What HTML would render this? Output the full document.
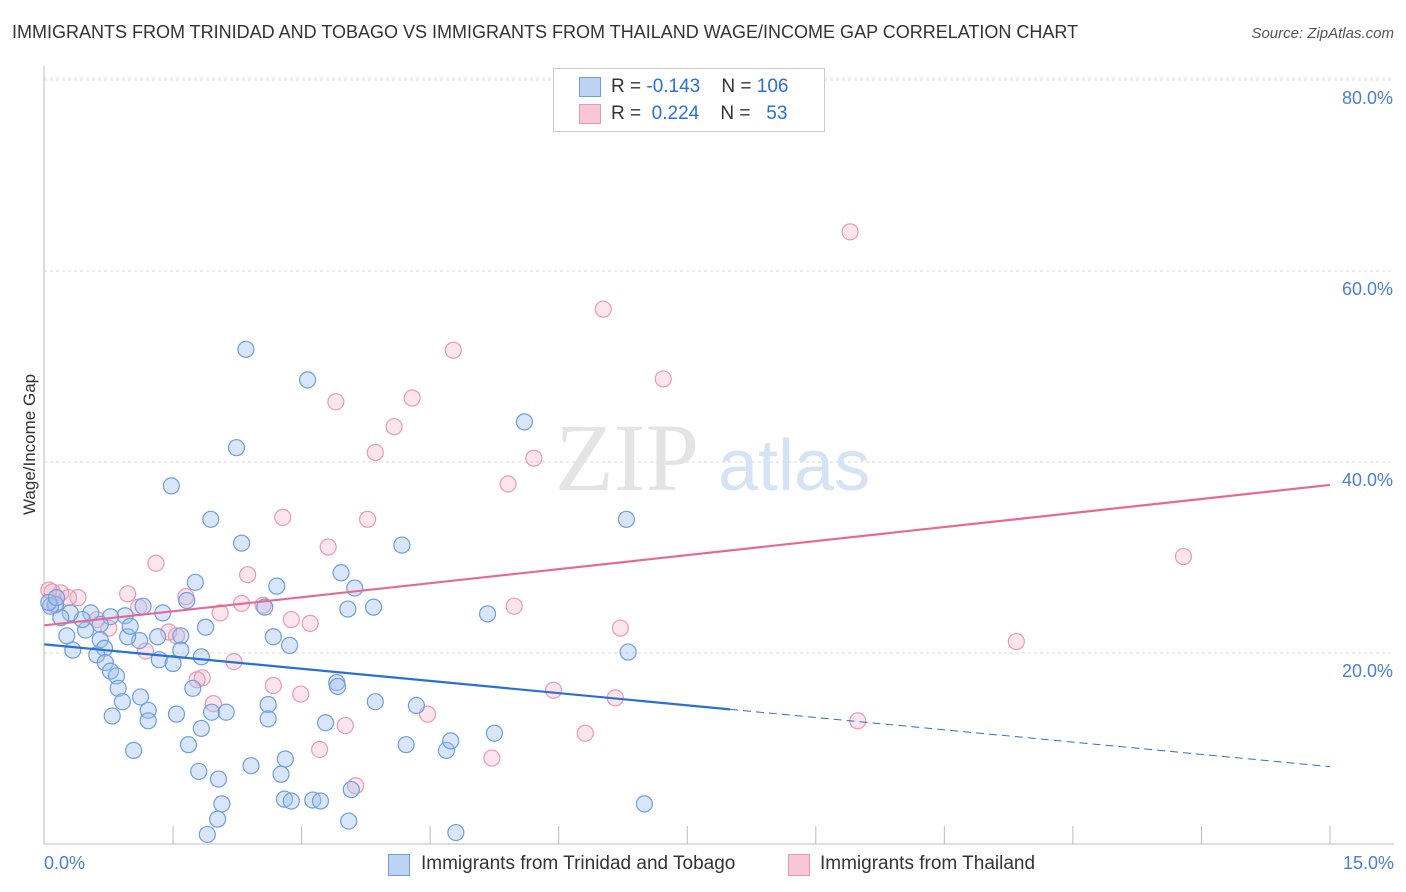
<!DOCTYPE html>
<html><head><meta charset="utf-8"><style>
body{margin:0;background:#fff;font-family:"Liberation Sans",sans-serif;}
#wrap{position:relative;width:1406px;height:892px;overflow:hidden;}
.t{position:absolute;white-space:nowrap;}
</style></head><body>
<div id="wrap">
<div class="t" style="left:12px;top:22px;font-size:18px;color:#333;">IMMIGRANTS FROM TRINIDAD AND TOBAGO VS IMMIGRANTS FROM THAILAND WAGE/INCOME GAP CORRELATION CHART</div>
<div class="t" style="right:12px;top:25px;font-size:15px;color:#555;font-style:italic;">Source: ZipAtlas.com</div>
<svg id="plot" width="1406" height="892" style="position:absolute;left:0;top:0"></svg>
</div>
<script>
const blueX=[2.35,3.07,5.60,2.24,1.48,1.94,6.79,2.30,4.17,3.46,1.76,2.71,3.62,1.66,2.57,3.54,3.84,5.17,1.15,1.38,1.88,2.67,2.86,6.81,1.59,1.59,1.32,1.83,1.34,1.50,1.11,0.97,0.94,1.00,0.77,0.65,0.54,0.48,0.44,0.30,0.26,0.33,0.19,0.13,0.07,0.65,0.70,0.61,0.71,0.77,0.84,0.86,0.91,0.79,1.12,1.21,1.21,1.54,1.73,1.83,1.95,2.12,1.68,1.04,1.80,2.03,2.41,2.61,2.61,2.81,2.76,2.80,2.88,3.13,3.22,2.07,2.02,1.90,3.28,3.41,3.42,3.86,3.58,3.55,4.22,4.34,4.69,4.74,4.80,5.25,7.00,0.05,0.14];
const blueY=[51.8,48.6,44.2,41.5,37.5,34.0,34.0,31.5,31.3,28.4,27.4,27.0,26.8,25.5,24.8,24.6,24.8,24.1,24.9,24.2,22.7,21.7,20.8,20.1,21.8,20.3,21.7,19.6,19.3,18.9,21.3,21.7,23.9,22.8,23.8,23.0,24.2,22.4,23.5,24.2,21.8,20.3,23.7,25.1,24.9,21.4,20.5,19.8,19.0,18.1,17.6,16.3,14.9,13.4,15.4,14.0,12.9,13.6,16.3,12.1,13.8,13.8,10.4,9.8,7.6,6.8,8.2,14.6,13.1,8.9,7.3,4.7,4.5,4.6,4.5,4.2,2.6,1.0,12.7,16.9,16.5,14.9,5.7,2.4,10.4,14.5,9.8,10.8,1.2,11.6,4.2,25.3,25.8];
const pinkX=[9.40,6.52,4.77,7.22,3.40,4.29,4.08,3.86,5.71,5.41,2.78,3.77,3.31,13.29,1.30,2.37,0.97,1.65,2.30,2.55,5.48,1.10,2.05,2.88,3.10,6.72,1.45,1.54,11.34,0.75,0.61,0.39,0.28,0.19,0.09,1.18,2.21,2.67,1.84,1.78,2.99,5.94,6.66,1.97,4.47,3.51,9.49,6.31,3.21,5.22,3.63,0.05,0.12];
const pinkY=[64.1,56.0,51.7,48.7,46.3,46.7,43.7,41.0,40.4,37.7,34.2,34.0,31.1,30.1,29.4,28.2,26.2,25.9,25.2,25.0,24.9,24.8,24.2,23.5,23.1,22.6,22.2,21.8,21.2,22.6,23.5,25.8,25.8,26.3,26.4,20.2,19.1,16.6,17.4,17.2,15.7,16.1,15.3,14.7,13.6,12.4,12.9,11.6,9.9,9.0,6.1,26.6,25.0];
const blueTrend=[20.9,14.1,8.1];   // y at x=0, x=8, x=15
const blueTrendX=[0,8,15];
const pinkTrend=[22.9,37.6];
const pinkTrendX=[0,15];
const yTicks=[20,40,60,80];
const yTickLabels=["20.0%","40.0%","60.0%","80.0%"];
const xTicks=[1.5,3,4.5,6,7.5,9,10.5,12,13.5,15];
const NS="http://www.w3.org/2000/svg";
const svg=document.getElementById('plot');
const sx=v=>44.5+v*85.7;
const sy=v=>844-v*9.55;
function mk(tag,attrs,parent){const e=document.createElementNS(NS,tag);for(const k in attrs)e.setAttribute(k,attrs[k]);(parent||svg).appendChild(e);return e;}
// gridlines
yTicks.forEach((t,i)=>{
 const g=mk('line',{x1:44,x2:1394,y1:sy(t),y2:sy(t),stroke:'#d8d8d8','stroke-dasharray':'3,3'});
 
 
 const tx=mk('text',{x:1393,y:sy(t)+24,'text-anchor':'end','font-size':18,fill:'#4a7fd4','font-family':'Liberation Sans, sans-serif'});
 tx.textContent=yTickLabels[i];
 
 
});
const tg=mk('line',{x1:44,x2:1394,y1:78,y2:78,stroke:'#e2e2e2','stroke-dasharray':'3,3'});


const ya=mk('line',{x1:44,x2:44,y1:66,y2:844,stroke:'#bbb'});


const xa=mk('line',{x1:44,x2:1394,y1:844,y2:844,stroke:'#bbb'});


xTicks.forEach(t=>{
 const l=mk('line',{x1:sx(t),x2:sx(t),y1:826,y2:844,stroke:'#bbb'});
 
 
});
// watermark
const wm=mk('text',{x:555,y:490,'font-size':96,fill:'#e4e4e4','font-family':'Liberation Serif, serif'});
wm.textContent='ZIP';


const wm2=mk('text',{x:718,y:490,'font-size':72,fill:'#d6e3f5','font-family':'Liberation Sans, sans-serif'});
wm2.textContent='atlas';


// points
pinkX.forEach((x,i)=>{
 const c=mk('circle',{cx:sx(x),cy:sy(pinkY[i]),r:8,fill:'rgba(244,170,192,0.3)',stroke:'#e99ab3','stroke-width':1.2});
 
 
});
blueX.forEach((x,i)=>{
 const c=mk('circle',{cx:sx(x),cy:sy(blueY[i]),r:8,fill:'rgba(160,192,240,0.4)',stroke:'#6d9ee0','stroke-width':1.2});
 
 
});
// trends
const bt=mk('line',{x1:sx(blueTrendX[0]),y1:sy(blueTrend[0]),x2:sx(blueTrendX[1]),y2:sy(blueTrend[1]),stroke:'#2a6fd6','stroke-width':2.2});


const bd=mk('line',{x1:sx(blueTrendX[1]),y1:sy(blueTrend[1]),x2:sx(blueTrendX[2]),y2:sy(blueTrend[2]),stroke:'#2a6fd6','stroke-width':1,'stroke-dasharray':'8,5'});


const pt=mk('line',{x1:sx(pinkTrendX[0]),y1:sy(pinkTrend[0]),x2:sx(pinkTrendX[1]),y2:sy(pinkTrend[1]),stroke:'#e46a95','stroke-width':2.2});


</script>
<div class="t" style="left:-30px;top:445px;font-size:17px;color:#333;transform:rotate(-90deg);transform-origin:center;width:120px;text-align:center;">Wage/Income Gap</div>
<div class="t" style="left:44px;top:853px;font-size:18px;color:#4a7fd4;">0.0%</div>
<div class="t" style="right:12px;top:853px;font-size:18px;color:#4a7fd4;">15.0%</div>
<div style="position:absolute;left:553px;top:68px;width:270px;height:62px;border:1px solid #ccc;background:#fff;font-size:19px;color:#333;">
 <div style="position:absolute;left:25px;top:8px;width:20px;height:18px;background:#bcd3f5;border:1px solid #6d9ee0;"></div>
 <div class="t" style="left:57px;top:7px;">R = <span style="color:#2a6fd6">-0.143</span>&nbsp;&nbsp;&nbsp; N = <span style="color:#2a6fd6">106</span></div>
 <div style="position:absolute;left:25px;top:35px;width:20px;height:18px;background:#f9c6d5;border:1px solid #e99ab3;"></div>
 <div class="t" style="left:57px;top:34px;">R = &nbsp;<span style="color:#2a6fd6">0.224</span>&nbsp;&nbsp;&nbsp; N = &nbsp;&nbsp;<span style="color:#2a6fd6">53</span></div>
</div>
<div style="position:absolute;left:388px;top:852px;font-size:19px;color:#333;">
 <div style="position:absolute;left:0;top:0;width:380px;">
  <div style="position:absolute;left:0;top:2px;width:20px;height:20px;background:#bcd3f5;border:1px solid #6d9ee0;"></div>
  <div class="t" style="left:33px;top:1px;">Immigrants from Trinidad and Tobago</div></div>
 <div style="position:absolute;left:400px;top:0;width:280px;">
  <div style="position:absolute;left:0;top:2px;width:20px;height:20px;background:#f9c6d5;border:1px solid #e99ab3;"></div>
  <div class="t" style="left:32px;top:1px;">Immigrants from Thailand</div></div>
</div>
</body></html>
